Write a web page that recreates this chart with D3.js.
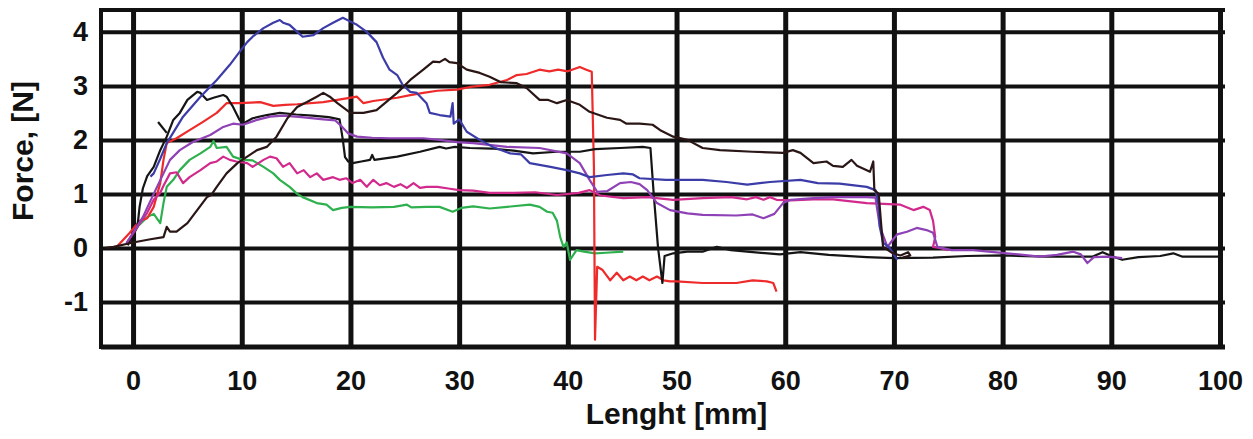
<html>
<head>
  <meta charset="utf-8">
  <title>Force vs length</title>
  <script src="https://d3js.org/d3.v7.min.js"></script>
  <style>
    body { margin: 0; background: #fff; }
    text { font-family: "Liberation Sans", Arial, sans-serif; font-weight: bold; fill: #111; }
  </style>
</head>
<body>
<svg id="chart" width="1253" height="439"></svg>
<script>
// tick values
var xTicks = [0, 10, 20, 30, 40, 50, 60, 70, 80, 90, 100];
var yTicks = [-1, 0, 1, 2, 3, 4];

// curves, [length mm, force N]
var green = [[-0.5,0.05],[-0.3,0.15],[0.4,0.39],[1.3,0.57],[1.9,0.63],[2.5,0.46],[2.8,0.83],[3.1,1.13],[3.7,1.26],[4.3,1.44],
  [5.2,1.63],[6.2,1.75],[7.1,1.87],[7.4,1.98],[7.7,1.85],[8.6,1.87],[9.2,1.69],[10.1,1.63],[11,1.62],[12,1.5],[12.9,1.38],
  [13.5,1.26],[14.4,1.13],[15.1,1.0],[15.6,0.94],[16.9,0.83],[17.8,0.8],[18.4,0.7],[19.2,0.74],[20,0.76],[22,0.75],[24,0.76],
  [25.2,0.8],[25.6,0.75],[27,0.76],[28.2,0.76],[29.4,0.67],[30.2,0.74],[31.3,0.77],[32.8,0.73],[34.4,0.76],[36.5,0.8],
  [37.4,0.76],[38.1,0.67],[38.6,0.65],[39,0.5],[39.3,0.2],[39.6,0.02],[39.9,0.1],[40.2,-0.22],[40.8,-0.04],[41.5,-0.07],
  [42.5,-0.1],[43.5,-0.09],[45.1,-0.07]];

var red = [[-1.5,0.02],[-0.3,0.28],[0.6,0.5],[1.3,0.55],[1.9,0.76],[2.5,1.2],[2.8,1.63],[3.1,1.94],[4,2.03],[5.2,2.18],
  [6.4,2.33],[7.7,2.5],[8.6,2.68],[9.8,2.68],[11.7,2.7],[12.9,2.63],[14,2.65],[15.1,2.66],[17.5,2.7],[18.8,2.74],[20.6,2.8],
  [21.2,2.68],[22.1,2.72],[24.3,2.78],[25.5,2.83],[26.7,2.87],[28,2.91],[29.8,2.93],[31,2.98],[32.8,3.02],[34.4,3.11],
  [35.3,3.2],[36.2,3.22],[37.4,3.3],[38.3,3.27],[39.1,3.3],[40,3.27],[41.1,3.35],[41.7,3.3],[42.2,3.26],[42.4,1.5],
  [42.5,-1.7],[42.7,-0.35],[43.2,-0.41],[43.9,-0.6],[44.5,-0.46],[45.1,-0.6],[45.7,-0.53],[46.3,-0.6],[46.9,-0.53],
  [47.5,-0.6],[48.2,-0.53],[48.8,-0.6],[49.4,-0.62],[50,-0.62],[52.4,-0.65],[55.5,-0.65],[57,-0.6],[58.3,-0.62],
  [58.9,-0.65],[59.2,-0.81]];

var blue = [[1.6,1.32],[1.9,1.38],[2.5,1.65],[3.1,1.94],[4.6,2.43],[6.2,2.8],[7.7,3.11],[8.9,3.39],[9.8,3.63],[10.5,3.81],
  [11,3.91],[12,4.07],[12.9,4.17],[13.5,4.22],[13.8,4.17],[14.4,4.13],[15.1,4.0],[15.6,3.91],[16.6,3.94],[17.5,4.07],
  [18.4,4.17],[19.3,4.26],[20,4.19],[20.6,4.13],[21.5,4.0],[22.4,3.81],[23,3.52],[23.6,3.3],[24.3,3.2],[24.8,3.02],
  [25.5,2.89],[26.1,2.87],[27,2.68],[27.3,2.5],[28.2,2.46],[29.2,2.43],[29.4,2.68],[29.5,2.3],[30,2.38],[30.7,2.15],
  [31.9,2.0],[33.1,1.87],[34.7,1.75],[35.7,1.73],[36.5,1.57],[38.4,1.5],[39.9,1.44],[41.1,1.38],[42,1.31],[43.6,1.35],
  [45.1,1.38],[46,1.36],[46.6,1.29],[49,1.26],[52.4,1.26],[54.6,1.22],[56.5,1.17],[58.6,1.22],[61.4,1.26],[63,1.2],
  [65,1.19],[67.5,1.13],[68.3,1.07],[68.6,0.8],[68.7,0.39],[69,0.1],[69.6,0.0],[70.3,-0.22]];

var blackA = [[-2.5,0.0],[-1.8,0.02],[0,0.1],[1.6,0.16],[2.8,0.2],[3.1,0.39],[3.4,0.3],[4,0.3],[5,0.46],[5.9,0.7],
  [6.8,0.94],[7.2,0.98],[7.7,1.13],[8.6,1.38],[9.6,1.57],[10.5,1.69],[11.4,1.81],[12.3,1.87],[13.2,2.06],[14.2,2.4],
  [15.1,2.61],[16,2.7],[16.9,2.8],[17.5,2.87],[18.1,2.8],[18.8,2.68],[20,2.5],[21.2,2.5],[22.4,2.55],[24.3,2.87],
  [25.5,3.11],[26.7,3.3],[27.6,3.45],[28.2,3.44],[28.7,3.5],[29.1,3.44],[29.8,3.42],[30.7,3.3],[31.9,3.24],[32.8,3.17],
  [33.8,3.07],[35.3,3.05],[36.2,2.96],[37.4,2.74],[38.2,2.74],[39,2.68],[39.9,2.74],[41.1,2.65],[42,2.52],[43.6,2.41],
  [44.8,2.37],[45.4,2.3],[46.6,2.3],[47.8,2.28],[48.5,2.18],[49.7,2.06],[51,2.0],[52.4,1.85],[54,1.81],[57,1.78],
  [59.8,1.76],[60.7,1.81],[61.4,1.76],[62.6,1.57],[63.8,1.6],[64.4,1.52],[65.3,1.5],[66.1,1.63],[66.6,1.52],[67.8,1.41],
  [68.1,1.6],[68.2,1.07],[68.6,1.0],[68.8,0.5],[69,0.02],[69.9,-0.1],[70.6,-0.14],[71.3,-0.08],[71.5,-0.14],[70.8,-0.18]];

var blackB = [[-0.5,0.05],[0.4,0.39],[0.6,0.76],[0.9,1.1],[1.3,1.33],[1.9,1.5],[2.5,1.81],[3.1,2.06],[3.7,2.37],[4.3,2.5],
  [5,2.74],[5.9,2.89],[6.2,2.87],[6.8,2.74],[7.4,2.78],[8.3,2.83],[8.6,2.8],[9.2,2.61],[9.8,2.37],[10.1,2.3],[11,2.4],
  [12.3,2.46],[13.5,2.5],[15,2.47],[16.5,2.45],[18,2.42],[19,2.38],[19.3,2.0],[19.5,1.68],[19.8,1.6],[20.2,1.57],[21,1.6],
  [21.8,1.63],[22,1.72],[22.2,1.63],[24.3,1.69],[26.4,1.78],[28.2,1.87],[28.8,1.84],[29.6,1.87],[31,1.85],[33,1.84],
  [35,1.8],[36.8,1.75],[39,1.78],[41.1,1.78],[42.5,1.83],[44.8,1.85],[46.9,1.87],[47.6,1.85],[47.9,1.0],[48.3,0.0],
  [48.7,-0.65],[48.9,-0.15],[49.7,-0.1],[51,-0.07],[52.4,-0.07],[53.7,0.02],[55,-0.04],[56.5,-0.07],[59.5,-0.12],
  [61.4,-0.08],[64,-0.13],[67.5,-0.17],[70,-0.19],[73.6,-0.18],[76.7,-0.15],[80,-0.14],[84,-0.16],[88.3,-0.16],
  [89.2,-0.08],[90.1,-0.16],[91,-0.22],[92.5,-0.17],[94.5,-0.15],[95.7,-0.1],[96.5,-0.16],[100,-0.16]];

var blackTick = [[2.3,2.33],[3.1,2.13]];

var purple = [[-0.6,0.09],[0,0.28],[0.9,0.57],[1.9,1.0],[2.8,1.38],[3.4,1.63],[4.3,1.81],[5.5,1.96],[7.1,2.09],[8.3,2.24],
  [9.2,2.3],[10.1,2.28],[11.4,2.37],[12.6,2.43],[13.8,2.45],[15.5,2.42],[17.5,2.38],[18.6,2.36],[19.2,2.25],[19.8,2.12],
  [20.6,2.06],[22,2.04],[23.6,2.03],[26.7,2.03],[28.2,2.0],[29.8,1.96],[31.3,1.94],[34.4,1.87],[37.4,1.85],[39.9,1.75],
  [41.1,1.57],[42,1.26],[42.7,1.04],[43.6,1.05],[44.8,1.2],[45.8,1.22],[46.6,1.18],[47.3,1.07],[48.2,0.83],[49.4,0.7],
  [51,0.64],[52.4,0.61],[55.5,0.6],[57,0.62],[58,0.55],[59,0.63],[59.8,0.83],[60.5,0.89],[62.6,0.92],[64.4,0.94],
  [67.5,0.94],[68.3,0.93],[68.7,0.4],[69.4,0.02],[69.9,0.15],[70.3,0.25],[71.2,0.3],[72.1,0.37],[73,0.33],[73.6,0.28],
  [73.8,0.15],[74,0.02],[75.3,-0.04],[77.3,-0.04],[80.4,-0.1],[83.4,-0.16],[85,-0.13],[86.5,-0.07],[87.2,-0.12],
  [87.8,-0.28],[88.4,-0.17],[89.7,-0.16],[91,-0.19]];

var magenta = [[-0.6,0.09],[0.4,0.39],[1.3,0.65],[1.9,0.89],[2.5,1.02],[2.8,1.15],[3.4,1.38],[4,1.4],[4.6,1.2],[5.2,1.31],
  [6.2,1.44],[7.1,1.57],[7.7,1.6],[8.3,1.69],[8.9,1.63],[9.5,1.6],[10.5,1.57],[11,1.5],[12,1.63],[12.6,1.69],[13.2,1.66],
  [13.8,1.5],[14.4,1.57],[15.1,1.38],[15.7,1.44],[16.3,1.31],[16.9,1.38],[17.5,1.26],[18.4,1.31],[19,1.26],[19.6,1.29],
  [20.2,1.2],[20.9,1.26],[21.5,1.13],[22.1,1.26],[22.7,1.16],[23.3,1.2],[24,1.13],[24.6,1.18],[25.2,1.11],[25.8,1.2],
  [26.4,1.11],[27,1.13],[28,1.13],[29,1.1],[30,1.07],[31.3,1.06],[32.8,1.02],[35,1.02],[37,1.03],[39,0.98],[41,1.02],
  [42,1.07],[43,0.97],[45.1,0.92],[47.3,0.94],[49.7,0.89],[52.4,0.92],[55,0.94],[56.5,0.9],[57.3,0.94],[58,0.89],
  [58.6,0.94],[59.2,0.89],[60.5,0.88],[62.6,0.9],[64.4,0.9],[67.5,0.83],[70.6,0.8],[71.8,0.7],[72.7,0.76],[73.3,0.7],
  [73.6,0.5],[73.8,0.2],[73.6,0.02],[74.2,0.0],[75,-0.04]];

var series = [
  {pts: green, color: "#2fb04e"},
  {pts: red, color: "#ee2a2a"},
  {pts: blackB, color: "#151515"},
  {pts: blackTick, color: "#151515"},
  {pts: magenta, color: "#d12a8c"},
  {pts: purple, color: "#8f42b6"},
  {pts: blue, color: "#3c3ca8"},
  {pts: blackA, color: "#2b1616"}
];

var margin = {top: 10, left: 101},
    width = 1119,
    height = 337;

var svg = d3.select("#chart").append("g")
  .attr("transform", "translate(" + margin.left + "," + margin.top + ")");

var x = d3.scaleLinear().domain([-2.95, 100]).range([0, width]);
var y = d3.scaleLinear().domain([-1.835, 4.405]).range([height, 0]);

// horizontal grid + y labels (plain hyphen for the minus, like the original)
var gy = svg.append("g")
  .call(d3.axisLeft(y).tickValues(yTicks).tickSize(-(width + 5)).tickPadding(13)
    .tickFormat(function(d) { return String(d); }));
gy.select(".domain").remove();
gy.selectAll("line").attr("stroke", "#111").attr("stroke-width", 4);
gy.selectAll("text").style("font-size", "27px").attr("fill", "#111");

// vertical grid + x labels
var gx = svg.append("g")
  .attr("transform", "translate(0," + height + ")")
  .call(d3.axisBottom(x).tickValues(xTicks).tickSize(-height).tickPadding(24));
gx.select(".domain").remove();
gx.selectAll("line").attr("stroke", "#111").attr("stroke-width", 5);
gx.selectAll("text").style("font-size", "27px").attr("fill", "#111");

// frame
svg.append("line").attr("x1", 0).attr("x2", width + 5).attr("y1", 0).attr("y2", 0)
  .attr("stroke", "#111").attr("stroke-width", 4);
svg.append("line").attr("x1", 0).attr("x2", 0).attr("y1", -2).attr("y2", height + 2)
  .attr("stroke", "#111").attr("stroke-width", 4);
svg.append("line").attr("x1", 0).attr("x2", width + 5).attr("y1", height).attr("y2", height)
  .attr("stroke", "#111").attr("stroke-width", 5);

var line = d3.line().x(function(d) { return x(d[0]); }).y(function(d) { return y(d[1]); });

svg.append("g").selectAll("path")
  .data(series)
  .enter().append("path")
    .attr("d", function(d) { return line(d.pts); })
    .attr("fill", "none")
    .attr("stroke", function(d) { return d.color; })
    .attr("stroke-width", 2.2)
    .attr("stroke-linejoin", "round");

// axis titles
svg.append("text")
  .attr("x", x(50))
  .attr("y", height + 77)
  .style("text-anchor", "middle")
  .style("font-size", "30px")
  .text("Lenght [mm]");

svg.append("text")
  .attr("transform", "rotate(-90)")
  .attr("x", -(151 - margin.top))
  .attr("y", 33 - margin.left)
  .style("text-anchor", "middle")
  .style("font-size", "30px")
  .text("Force, [N]");
</script>
</body>
</html>
